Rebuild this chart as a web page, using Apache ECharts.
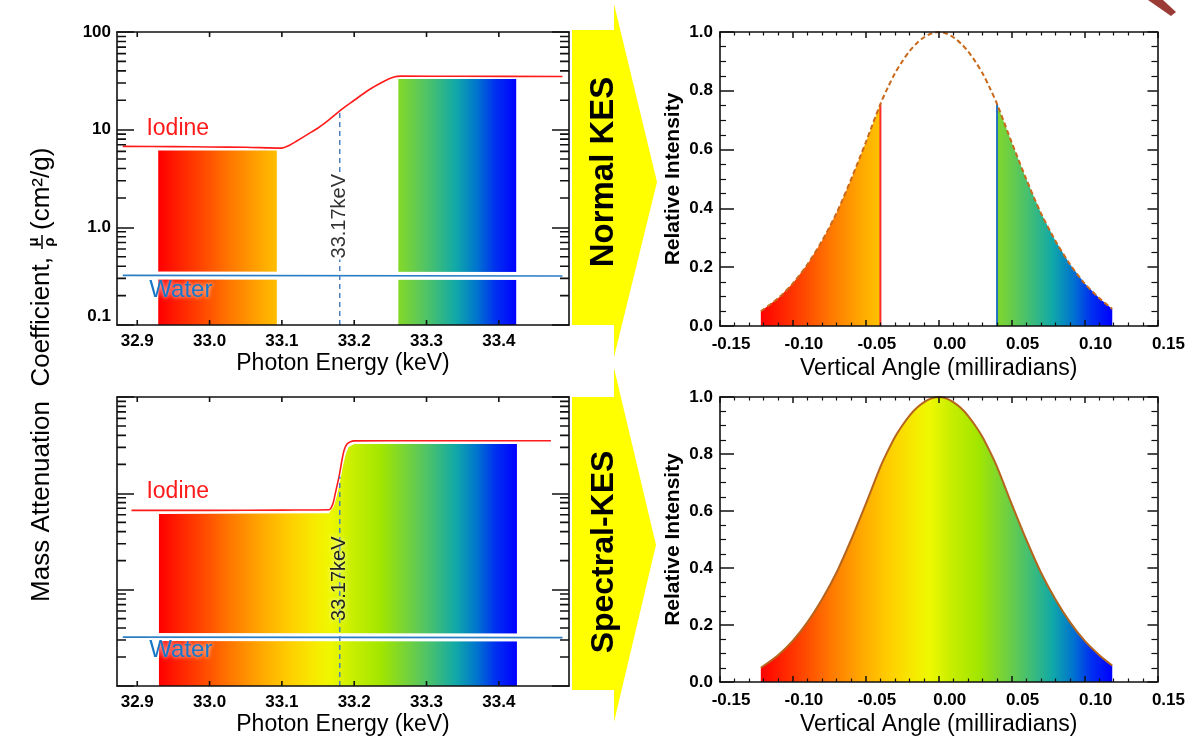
<!DOCTYPE html>
<html lang="en">
<head>
<meta charset="UTF-8" />
<title>Normal KES / Spectral-KES</title>
<style>
    * { box-sizing: border-box; margin: 0; padding: 0; }
    html, body { background: #fff; }
    #chart { width: 1188px; height: 737px; }
</style>
</head>
<body>
<div id="chart"></div>
<script src="https://cdn.jsdelivr.net/npm/echarts@6/dist/echarts.min.js"></script>
<script>
// ---- 左上：Normal KES 吸收系数 ----
var energyNormal = [32.88, 32.95, 33.0, 33.05, 33.1, 33.11, 33.12, 33.135, 33.15, 33.165, 33.18, 33.2, 33.22, 33.24, 33.255, 33.265, 33.35, 33.488];
var iodineNormal = [6.75, 6.7, 6.65, 6.6, 6.47, 6.9, 7.6, 8.9, 10.4, 12.6, 15.6, 20.0, 25.5, 31.0, 34.6, 35.3, 35.2, 35.0];
var waterEnergy = [32.88, 33.488];
var waterNormal = [0.322, 0.317];
var fillLowEnergy = [32.929, 33.093];
var fillLowTop = [6.12, 6.12];
var fillHighEnergy = [33.261, 33.424];
var fillHighTop = [33.0, 33.0];

// ---- 左下：Spectral-KES 吸收系数 ----
var energySpectral = [32.892, 33.0, 33.1, 33.165, 33.17, 33.173, 33.176, 33.179, 33.183, 33.186, 33.19, 33.195, 33.2, 33.3, 33.472];
var iodineSpectral = [6.65, 6.65, 6.7, 6.75, 7.6, 9.3, 11.8, 14.9, 22.0, 28.0, 32.5, 34.4, 35.0, 35.2, 35.2];
var waterSpectral = [0.322, 0.318];
var fillSpectralEnergy = [32.93, 33.165, 33.172, 33.176, 33.18, 33.184, 33.188, 33.192, 33.2, 33.425];
var fillSpectralTop = [6.1, 6.2, 7.4, 9.4, 12.8, 18.5, 25.0, 30.0, 32.5, 32.6];

// K 边位置
var edgeEnergy = 33.18;
var edgeTop = 15;
var edgeLabel = '33.17keV';

// ---- 右侧：垂直角度强度分布 ----
var angle = [-0.122, -0.11, -0.1, -0.09, -0.08, -0.07, -0.06, -0.05, -0.04, -0.035, -0.03, -0.025, -0.02, -0.015, -0.01, -0.005, 0,
    0.005, 0.01, 0.015, 0.02, 0.025, 0.03, 0.035, 0.04, 0.05, 0.06, 0.07, 0.08, 0.09, 0.1, 0.11, 0.119];
var intensity = [0.05, 0.095, 0.145, 0.21, 0.29, 0.385, 0.5, 0.625, 0.755, 0.81, 0.86, 0.9, 0.935, 0.962, 0.982, 0.995, 1.0,
    0.995, 0.982, 0.962, 0.935, 0.9, 0.86, 0.81, 0.755, 0.625, 0.5, 0.385, 0.29, 0.21, 0.145, 0.095, 0.058];
var cutLow = -0.04;
var cutHigh = 0.04;

// 刻度
var energyMin = 32.872;
var energyMax = 33.497;
var energyTicks = [32.9, 33.0, 33.1, 33.2, 33.3, 33.4];
var logMinorTicks = [0.2, 0.3, 0.4, 0.5, 0.6, 0.7, 0.8, 0.9, 2, 3, 4, 5, 6, 7, 8, 9, 20, 30, 40, 50, 60, 70, 80, 90];

// 彩虹色谱范围
var energySpan = [32.93, 33.425];
var angleSpan = [-0.122, 0.119];
var spectrumStops = [
    { offset: 0, color: '#ff0000' },
    { offset: 0.11, color: '#ff4000' },
    { offset: 0.2, color: '#ff7800' },
    { offset: 0.29, color: '#ffaa00' },
    { offset: 0.36, color: '#ffcc00' },
    { offset: 0.44, color: '#f6ec00' },
    { offset: 0.48, color: '#eef800' },
    { offset: 0.54, color: '#c8ee00' },
    { offset: 0.62, color: '#a2e600' },
    { offset: 0.7, color: '#70d040' },
    { offset: 0.76, color: '#46c070' },
    { offset: 0.83, color: '#10a8a8' },
    { offset: 0.89, color: '#0072d0' },
    { offset: 0.94, color: '#0030f0' },
    { offset: 1, color: '#0000ff' }
];

var FONT = '"Liberation Sans", Arial, Helvetica, sans-serif';
var tickStyle = { color: '#111', width: 1.5 };
var LEFT_W = 452;       // 左侧网格宽度 (px)
var LEFT_DECADE = 97.7; // 左侧一个十进位的高度 (px)

function zip(xs, ys) {
    return xs.map(function (x, i) { return [x, ys[i]]; });
}
function frameLine() {
    return { show: true, onZero: false, lineStyle: { color: '#111', width: 1.6 } };
}
function tickFont() {
    return { color: '#000', fontFamily: FONT, fontWeight: 'bold', fontSize: 17 };
}

// x 轴：光子能量 (刻度线另外用折线画)
function energyAxis(grid, pos, withLabel) {
    return {
        type: 'value', gridIndex: grid, position: pos, z: 5,
        min: energyMin, max: energyMax,
        axisLine: frameLine(),
        axisTick: { show: false },
        axisLabel: Object.assign(tickFont(), {
            show: withLabel, customValues: energyTicks, margin: 8,
            formatter: function (v) { return v.toFixed(1); }
        }),
        splitLine: { show: false },
        name: withLabel ? 'Photon Energy (keV)' : '',
        nameLocation: 'middle', nameGap: 27,
        nameTextStyle: { color: '#000', fontFamily: FONT, fontSize: 23 }
    };
}
// x 轴：垂直角度
function angleAxis(grid, pos, withLabel) {
    return {
        type: 'value', gridIndex: grid, position: pos, z: 5,
        min: -0.15, max: 0.15, interval: 0.05,
        axisLine: frameLine(),
        axisTick: { show: true, inside: true, length: 6, lineStyle: tickStyle },
        minorTick: { show: true, splitNumber: 5, length: 3.5, lineStyle: { color: '#111', width: 1.2 } },
        axisLabel: Object.assign(tickFont(), {
            show: withLabel, margin: 10, padding: [0, 0, 0, 22],
            showMinLabel: true, showMaxLabel: true,
            formatter: function (v) { return Math.abs(v) < 1e-9 ? '0.00' : v.toFixed(2); }
        }),
        splitLine: { show: false },
        name: withLabel ? 'Vertical Angle (milliradians)' : '',
        nameLocation: 'middle', nameGap: 31,
        nameTextStyle: { color: '#000', fontFamily: FONT, fontSize: 23 }
    };
}
// y 轴：对数坐标 (十进主刻度)
function logAxis(grid, pos, withLabel) {
    return {
        type: 'log', logBase: 10, gridIndex: grid, position: pos, z: 5,
        min: 0.1, max: 100,
        axisLine: frameLine(),
        axisTick: { show: true, inside: true, length: 17, lineStyle: tickStyle },
        axisLabel: Object.assign(tickFont(), {
            show: withLabel, margin: 6, verticalAlignMinLabel: 'bottom',
            formatter: function (v) { return v >= 10 ? String(Math.round(v)) : (Math.round(v * 10) / 10).toFixed(1); }
        }),
        splitLine: { show: false }
    };
}
// y 轴：相对强度
function intensityAxis(grid, pos, withLabel, len) {
    return {
        type: 'value', gridIndex: grid, position: pos, z: 5,
        min: 0, max: 1, interval: 0.2,
        axisLine: frameLine(),
        axisTick: { show: true, inside: true, length: len, lineStyle: tickStyle },
        minorTick: { show: true, splitNumber: 4, length: 6, lineStyle: { color: '#111', width: 1.2 } },
        axisLabel: Object.assign(tickFont(), {
            show: withLabel, margin: 7,
            formatter: function (v) { return v.toFixed(1); }
        }),
        splitLine: { show: false },
        name: withLabel ? 'Relative Intensity' : '',
        nameLocation: 'middle', nameGap: 36, nameRotate: 90,
        nameTextStyle: { color: '#000', fontFamily: FONT, fontSize: 21, fontWeight: 'bold' }
    };
}

// 左侧面板的刻度线：对数次刻度 (2..9) + 能量刻度，用断开的折线画
function leftTickData() {
    var dx = (energyMax - energyMin) * 9 / LEFT_W;
    var f = Math.pow(10, 5 / LEFT_DECADE);
    var d = [];
    logMinorTicks.forEach(function (v) {
        d.push([energyMin, v], [energyMin + dx, v], [energyMin + dx, '-']);
        d.push([energyMax - dx, v], [energyMax, v], [energyMax, '-']);
    });
    energyTicks.forEach(function (x) {
        d.push([x, 0.1], [x, 0.1 * f], [x, '-']);
        d.push([x, 100], [x, 100 / f], [x, '-']);
    });
    return d;
}
function leftTickSeries(xi, yi) {
    return {
        type: 'line', xAxisIndex: xi, yAxisIndex: yi, z: 6, silent: true,
        data: leftTickData(), symbol: 'none', connectNulls: false, clip: false,
        lineStyle: { color: '#111', width: 1.6 }
    };
}

// 彩色填充区：曲线下方到 base，颜色按全局色谱
function spectrumFill(xi, yi, xs, ys, base, span) {
    return {
        type: 'custom', xAxisIndex: xi, yAxisIndex: yi, z: 1, silent: true,
        data: [[xs[0], ys[0]]],
        renderItem: function (params, api) {
            var pts = xs.map(function (x, i) { return api.coord([x, ys[i]]); });
            pts.push(api.coord([xs[xs.length - 1], base]));
            pts.push(api.coord([xs[0], base]));
            var g0 = api.coord([span[0], base])[0];
            var g1 = api.coord([span[1], base])[0];
            return {
                type: 'polygon',
                shape: { points: pts },
                style: { fill: new echarts.graphic.LinearGradient(g0, 0, g1, 0, spectrumStops, true) }
            };
        }
    };
}
function lineSeries(xi, yi, data, style, z, smooth) {
    return {
        type: 'line', xAxisIndex: xi, yAxisIndex: yi, z: z, silent: true,
        data: data, symbol: 'none', smooth: smooth || false,
        lineStyle: style
    };
}
function textSeries(xi, yi, point, text, label) {
    return {
        type: 'scatter', xAxisIndex: xi, yAxisIndex: yi, z: 7, silent: true,
        data: [point], symbolSize: 1, itemStyle: { color: 'transparent', opacity: 1 },
        label: Object.assign({ show: true, formatter: text, fontFamily: FONT, opacity: 1 }, label)
    };
}

function pick(xs, ys, test) {
    var outX = [], outY = [];
    xs.forEach(function (x, i) { if (test(x)) { outX.push(x); outY.push(ys[i]); } });
    return { x: outX, y: outY };
}
var leftPart = pick(angle, intensity, function (x) { return x <= cutLow + 1e-9; });
var rightPart = pick(angle, intensity, function (x) { return x >= cutHigh - 1e-9; });
var cutValue = intensity[angle.indexOf(cutLow)];

var iodineLabel = { position: 'right', distance: 0, fontSize: 23, color: '#ff1a1a' };
var waterLabel = { position: 'right', distance: 0, fontSize: 24, color: '#1877c9', textShadowColor: '#fff', textShadowBlur: 4 };

var chart = echarts.init(document.getElementById('chart'));
chart.setOption({
    animation: false,
    backgroundColor: '#fff',
    grid: [
        { left: 117, top: 32, width: LEFT_W, height: 293 },
        { left: 117, top: 397, width: LEFT_W, height: 293 },
        { left: 720, top: 32, width: 444, height: 294 },
        { left: 720, top: 397, width: 444, height: 293 }
    ],
    xAxis: [
        energyAxis(0, 'bottom', true), energyAxis(0, 'top', false),
        energyAxis(1, 'bottom', true), energyAxis(1, 'top', false),
        angleAxis(2, 'bottom', true), angleAxis(2, 'top', false),
        angleAxis(3, 'bottom', true), angleAxis(3, 'top', false)
    ],
    yAxis: [
        logAxis(0, 'left', true), logAxis(0, 'right', false),
        logAxis(1, 'left', false), logAxis(1, 'right', false),
        intensityAxis(2, 'left', true, 14), intensityAxis(2, 'right', false, 10),
        intensityAxis(3, 'left', true, 14), intensityAxis(3, 'right', false, 10)
    ],
    series: [
        // 左上
        spectrumFill(0, 0, fillLowEnergy, fillLowTop, 0.1, energySpan),
        spectrumFill(0, 0, fillHighEnergy, fillHighTop, 0.1, energySpan),
        lineSeries(0, 0, zip(waterEnergy, waterNormal), { color: '#fff', width: 8 }, 2),
        lineSeries(0, 0, zip(waterEnergy, waterNormal), { color: '#2a7ec4', width: 1.6 }, 3),
        lineSeries(0, 0, zip(energyNormal, iodineNormal), { color: '#ff1a1a', width: 1.6 }, 3, 0.3),
        lineSeries(0, 0, [[edgeEnergy, 0.1], [edgeEnergy, edgeTop]], { color: '#4a7fc0', width: 1.5, type: [5, 4] }, 4),
        leftTickSeries(0, 0),
        textSeries(0, 0, [32.912, 10.2], 'Iodine', iodineLabel),
        textSeries(0, 0, [32.916, 0.226], 'Water', waterLabel),
        textSeries(0, 0, [edgeEnergy, 1.3], edgeLabel, {
            position: 'inside', rotate: 90, fontSize: 20, color: '#333', backgroundColor: '#fff', padding: [0, 1]
        }),

        // 左下
        spectrumFill(2, 2, fillSpectralEnergy, fillSpectralTop, 0.1, energySpan),
        lineSeries(2, 2, zip(waterEnergy, waterSpectral), { color: '#fff', width: 8 }, 2),
        lineSeries(2, 2, zip(waterEnergy, waterSpectral), { color: '#2a7ec4', width: 1.6 }, 3),
        lineSeries(2, 2, zip(energySpectral, iodineSpectral), { color: '#ff1a1a', width: 1.6 }, 3, 0.3),
        lineSeries(2, 2, [[edgeEnergy, 0.1], [edgeEnergy, edgeTop]], { color: '#4a7fc0', width: 1.5, type: [5, 4] }, 4),
        leftTickSeries(2, 2),
        textSeries(2, 2, [32.912, 10.3], 'Iodine', iodineLabel),
        textSeries(2, 2, [32.916, 0.232], 'Water', waterLabel),
        textSeries(2, 2, [edgeEnergy, 1.3], edgeLabel, {
            position: 'inside', rotate: 90, fontSize: 20, color: '#222', textShadowColor: '#fff', textShadowBlur: 5
        }),

        // 右上
        spectrumFill(4, 4, leftPart.x, leftPart.y, 0, angleSpan),
        spectrumFill(4, 4, rightPart.x, rightPart.y, 0, angleSpan),
        lineSeries(4, 4, [[cutLow, 0], [cutLow, cutValue]], { color: '#ff2a2a', width: 2 }, 3),
        lineSeries(4, 4, [[cutHigh, 0], [cutHigh, cutValue]], { color: '#2070c0', width: 2 }, 3),
        lineSeries(4, 4, zip(angle, intensity), { color: '#c8691c', width: 2, type: [5, 3] }, 4, 0.3),

        // 右下
        spectrumFill(6, 6, angle, intensity, 0, angleSpan),
        lineSeries(6, 6, zip(angle, intensity), { color: '#b5651d', width: 2 }, 4, 0.3)
    ],
    graphic: [
        // 黄色箭头
        { type: 'polygon', shape: { points: [[572, 30], [614, 30], [614, 4], [657, 182], [614, 357], [614, 325], [572, 325]] }, style: { fill: '#ffff00' } },
        { type: 'polygon', shape: { points: [[572, 397], [614, 397], [614, 368], [656, 545], [614, 722], [614, 690], [572, 690]] }, style: { fill: '#ffff00' } },
        { type: 'text', x: 604, y: 172, rotation: Math.PI / 2, style: { text: 'Normal KES', fontFamily: FONT, fontWeight: 'bold', fontSize: 33, fill: '#000', align: 'center', verticalAlign: 'middle' } },
        { type: 'text', x: 604, y: 552, rotation: Math.PI / 2, style: { text: 'Spectral-KES', fontFamily: FONT, fontWeight: 'bold', fontSize: 32, fill: '#000', align: 'center', verticalAlign: 'middle' } },
        // 左侧纵轴标题
        { type: 'text', x: 42, y: 257, rotation: Math.PI / 2, style: { text: 'Mass Attenuation  Coefficient,', fontFamily: FONT, fontSize: 26, fill: '#000', align: 'right', verticalAlign: 'middle' } },
        { type: 'text', x: 34, y: 242, rotation: Math.PI / 2, style: { text: 'μ', fontFamily: FONT, fontWeight: 'bold', fontSize: 15, fill: '#000', align: 'center', verticalAlign: 'middle' } },
        { type: 'line', shape: { x1: 42, y1: 235, x2: 42, y2: 249 }, style: { stroke: '#000', lineWidth: 1.5 } },
        { type: 'text', x: 50, y: 242, rotation: Math.PI / 2, style: { text: 'ρ', fontFamily: FONT, fontWeight: 'bold', fontSize: 15, fill: '#000', align: 'center', verticalAlign: 'middle' } },
        { type: 'text', x: 42, y: 230, rotation: Math.PI / 2, style: { text: '(cm²/g)', fontFamily: FONT, fontSize: 26, fill: '#000', align: 'left', verticalAlign: 'middle' } },
        // 右上角残留图形
        { type: 'polygon', shape: { points: [[1148, 0], [1163, 0], [1176, 12], [1171, 16]] }, style: { fill: '#9b3b35' } }
    ]
});
</script>
</body>
</html>
